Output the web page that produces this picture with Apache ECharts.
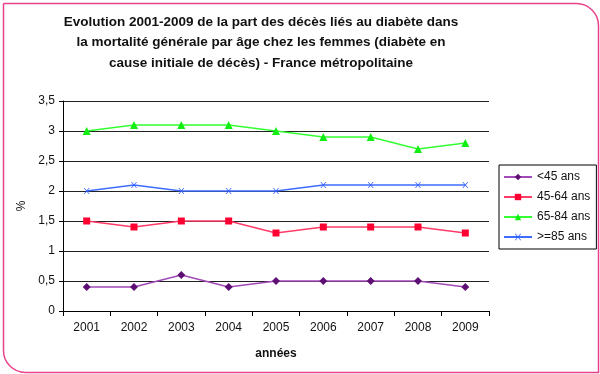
<!DOCTYPE html>
<html>
<head>
<meta charset="utf-8">
<script src="https://cdn.jsdelivr.net/npm/echarts@6/dist/echarts.min.js"></script>
<style>html,body{margin:0;padding:0;background:#fff}#c{width:600px;height:374px}</style>
</head>
<body>
<div id="c"></div>
<script>
var categories = ['2001','2002','2003','2004','2005','2006','2007','2008','2009'];
var seriesNames = ['<45 ans','45-64 ans','65-84 ans','>=85 ans'];
var s45 = [0.4,0.4,0.6,0.4,0.5,0.5,0.5,0.5,0.4];
var s4564 = [1.5,1.4,1.5,1.5,1.3,1.4,1.4,1.4,1.3];
var s6584 = [3.0,3.1,3.1,3.1,3.0,2.9,2.9,2.7,2.8];
var s85 = [2.0,2.1,2.0,2.0,2.0,2.1,2.1,2.1,2.1];

var xSym = 'path://M0,0L1.5,0L5,4.2L8.5,0L10,0L5.8,5L10,10L8.5,10L5,5.8L1.5,10L0,10L4.2,5Z';
var chart = echarts.init(document.getElementById('c'));
var font = 'Liberation Sans, Arial, sans-serif';
chart.setOption({
  animation: false,
  textStyle: {fontFamily: font},
  graphic: [{
    type: 'rect', left: 1, top: 1,
    shape: {width: 595, height: 369, r: [0, 22, 0, 22]},
    style: {fill: 'none', stroke: '#e8438a', lineWidth: 1.5}, z: 0
  }],
  title: {
    text: 'Evolution 2001-2009 de la part des décès liés au diabète dans\nla mortalité générale par âge chez les femmes (diabète en\ncause initiale de décès) - France métropolitaine',
    left: 256, textAlign: 'center', top: 7,
    textStyle: {fontFamily: font, fontSize: 13.5, fontWeight: 'bold', color: '#111', lineHeight: 20.5}
  },
  legend: {
    orient: 'vertical', left: 499, top: 165,
    padding: [5, 6, 5, 4], itemGap: 6, itemWidth: 28, itemHeight: 8,
    borderColor: '#000', borderWidth: 1,
    textStyle: {fontFamily: font, fontSize: 12, color: '#111', lineHeight: 14},
    data: seriesNames
  },
  grid: {left: 63, right: 111, top: 101, bottom: 63},
  xAxis: {
    type: 'category', data: categories, boundaryGap: true,
    name: 'années', nameLocation: 'middle', nameGap: 37,
    nameTextStyle: {fontFamily: font, fontSize: 12, fontWeight: 'bold', color: '#111'},
    axisLine: {lineStyle: {color: '#000', width: 1}},
    axisTick: {show: true, length: 5, lineStyle: {color: '#000'}},
    axisLabel: {fontFamily: font, fontSize: 12, color: '#111', margin: 11}
  },
  yAxis: {
    type: 'value', min: 0, max: 3.5, interval: 0.5,
    name: '%', nameLocation: 'middle', nameGap: 35, nameRotate: 90,
    nameTextStyle: {fontFamily: font, fontSize: 12, color: '#111'},
    axisLine: {show: true, lineStyle: {color: '#000', width: 1}},
    axisTick: {show: true, length: 4, lineStyle: {color: '#000'}},
    axisLabel: {fontFamily: font, fontSize: 12, color: '#111', margin: 8,
      formatter: function (v) { return String(v).replace('.', ','); }},
    splitLine: {show: true, lineStyle: {color: '#222', width: 1}}
  },
  series: [
    {name: seriesNames[0], type: 'line', data: s45, symbol: 'diamond', symbolSize: 8,
      lineStyle: {color: '#a24ab8', width: 1.5}, itemStyle: {color: '#5e0f74'}},
    {name: seriesNames[1], type: 'line', data: s4564, symbol: 'rect', symbolSize: 7,
      lineStyle: {color: '#ff3b66', width: 1.5}, itemStyle: {color: '#ff0033'}},
    {name: seriesNames[2], type: 'line', data: s6584, symbol: 'triangle', symbolSize: 8,
      lineStyle: {color: '#33ff33', width: 1.5}, itemStyle: {color: '#11ee11'}},
    {name: seriesNames[3], type: 'line', data: s85, symbol: xSym, symbolSize: 6,
      lineStyle: {color: '#3d6cff', width: 1.5}, itemStyle: {color: '#2f5cff'}}
  ]
});
</script>
</body>
</html>
